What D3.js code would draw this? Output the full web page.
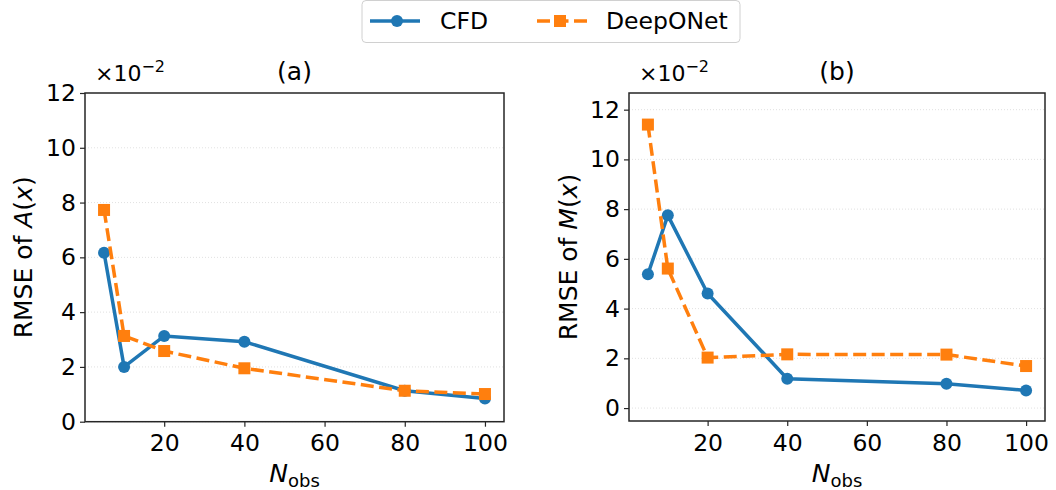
<!DOCTYPE html>
<html>
<head>
<meta charset="utf-8">
<script src="https://cdn.jsdelivr.net/npm/d3@7"></script>
<style>
  body { margin: 0; background: #fff; }
  svg text { font-family: "DejaVu Sans", sans-serif; fill: #000; }
</style>
</head>
<body>
<div id="chart"></div>
<script>
// data, values in units of 1e-2
var nObs = [5, 10, 20, 40, 80, 100];
var cfdA = [6.17, 2.0, 3.13, 2.92, 1.13, 0.85];
var deepA = [7.73, 3.13, 2.58, 1.95, 1.13, 1.01];
var cfdM = [5.38, 7.75, 4.61, 1.18, 0.98, 0.71];
var deepM = [11.4, 5.61, 2.03, 2.16, 2.15, 1.69];
var xTicks = [20, 40, 60, 80, 100];
var yTicks = [0, 2, 4, 6, 8, 10, 12];
var seriesNames = ["CFD", "DeepONet"];

var blue = "#1f77b4", orange = "#ff7f0e";
var _width = 1056, _height = 490;
var _tickFont = 23.5, _labelFont = 25;
var _lw = 3.5, _dash = "13,5.5";

var svg = d3.select("#chart").append("svg")
    .attr("width", _width)
    .attr("height", _height);

function panel(opts) {
    var x = d3.scaleLinear().domain([0.25, 104.75]).range([opts.left, opts.right]);
    var y = d3.scaleLinear().domain(opts.ydom).range([opts.bottom, opts.top]);
    var g = svg.append("g");

    // grid
    g.selectAll("line.grid").data(yTicks.filter(function(t) { return y(t) > opts.top + 1; }))
        .enter().append("line")
        .attr("x1", opts.left).attr("x2", opts.right)
        .attr("y1", function(d) { return y(d); }).attr("y2", function(d) { return y(d); })
        .attr("stroke", "#d9d9d9").attr("stroke-width", 0.8)
        .attr("stroke-dasharray", "1,2");

    var xAxis = g.append("g")
        .attr("transform", "translate(0," + opts.bottom + ")")
        .call(d3.axisBottom(x).tickValues(xTicks).tickSize(5).tickPadding(8));
    var yAxis = g.append("g")
        .attr("transform", "translate(" + opts.left + ",0)")
        .call(d3.axisLeft(y).tickValues(yTicks).tickSize(5).tickPadding(4));
    [xAxis, yAxis].forEach(function(a) {
        a.select(".domain").remove();
        a.selectAll("line").attr("stroke", "#262626").attr("stroke-width", 1.2);
        a.selectAll("text").style("font-size", _tickFont + "px").attr("fill", "#000");
    });

    var line = d3.line()
        .x(function(d, i) { return x(nObs[i]); })
        .y(function(d) { return y(d); });

    g.append("path").datum(opts.cfd)
        .attr("d", line).attr("fill", "none")
        .attr("stroke", blue).attr("stroke-width", _lw);
    g.selectAll("circle.cfd").data(opts.cfd).enter().append("circle")
        .attr("cx", function(d, i) { return x(nObs[i]); })
        .attr("cy", function(d) { return y(d); })
        .attr("r", 6).attr("fill", blue);

    g.append("path").datum(opts.deep)
        .attr("d", line).attr("fill", "none")
        .attr("stroke", orange).attr("stroke-width", _lw)
        .attr("stroke-dasharray", _dash);
    g.selectAll("rect.deep").data(opts.deep).enter().append("rect")
        .attr("x", function(d, i) { return x(nObs[i]) - 6; })
        .attr("y", function(d) { return y(d) - 6; })
        .attr("width", 12).attr("height", 12).attr("fill", orange);

    // frame
    g.append("rect")
        .attr("x", opts.left).attr("y", opts.top)
        .attr("width", opts.right - opts.left).attr("height", opts.bottom - opts.top)
        .attr("fill", "none").attr("stroke", "#262626").attr("stroke-width", 1.5);

    // offset text
    var off = g.append("text").attr("x", opts.left + 10).attr("y", 81).style("font-size", "22px");
    off.append("tspan").text("\u00d710");
    off.append("tspan").attr("dy", -9).style("font-size", "16px").text("\u22122");

    // title
    g.append("text").attr("x", (opts.left + opts.right) / 2).attr("y", 80)
        .attr("text-anchor", "middle").style("font-size", _labelFont + "px").text(opts.title);

    // x label
    var xl = g.append("text").attr("x", (opts.left + opts.right) / 2).attr("y", 482)
        .attr("text-anchor", "middle").style("font-size", _labelFont + "px");
    xl.append("tspan").style("font-style", "italic").text("N");
    xl.append("tspan").attr("dy", 5).style("font-size", "18px").text("obs");

    // y label
    var yl = g.append("text")
        .attr("transform", "translate(" + opts.ylabX + "," + ((opts.top + opts.bottom) / 2) + ") rotate(-90)")
        .attr("text-anchor", "middle").style("font-size", _labelFont + "px");
    yl.append("tspan").text("RMSE of ");
    yl.append("tspan").style("font-style", "italic").text(opts.fn);
    yl.append("tspan").text("(");
    yl.append("tspan").style("font-style", "italic").text("x");
    yl.append("tspan").text(")");
}

panel({left: 85, right: 504, top: 93, bottom: 421.7, ydom: [0, 12],
       cfd: cfdA, deep: deepA, title: "(a)", fn: "A", ylabX: 32});
panel({left: 629, right: 1045, top: 93, bottom: 421, ydom: [-0.52, 12.67],
       cfd: cfdM, deep: deepM, title: "(b)", fn: "M", ylabX: 577});

// legend
var leg = svg.append("g");
leg.append("rect").attr("x", 362).attr("y", 0.5).attr("width", 378).attr("height", 42)
    .attr("rx", 4).attr("fill", "#fff").attr("stroke", "#d0d0d0");
var items = [{name: seriesNames[0], color: blue, x: 370, tx: 440, dash: null},
             {name: seriesNames[1], color: orange, x: 537, tx: 606, dash: _dash}];
items.forEach(function(it, i) {
    leg.append("line").attr("x1", it.x).attr("x2", it.x + 50).attr("y1", 21).attr("y2", 21)
        .attr("stroke", it.color).attr("stroke-width", _lw)
        .attr("stroke-dasharray", it.dash);
    if (i === 0) {
        leg.append("circle").attr("cx", it.x + 27).attr("cy", 21).attr("r", 6).attr("fill", it.color);
    } else {
        leg.append("rect").attr("x", it.x + 17).attr("y", 15).attr("width", 12).attr("height", 12).attr("fill", it.color);
    }
    leg.append("text").attr("x", it.tx).attr("y", 29).style("font-size", "23.5px").text(it.name);
});
</script>
</body>
</html>
